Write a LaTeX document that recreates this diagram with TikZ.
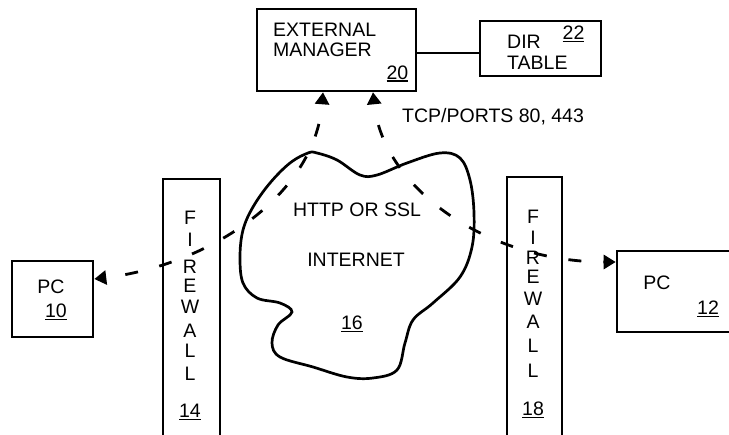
\documentclass[tikz,border=0pt]{standalone}
\usepackage{fontspec}
\setmainfont{Liberation Sans}
\usetikzlibrary{arrows.meta}
% underlined reference numeral with a heavier rule
\newcommand\refnum[1]{\setbox0\hbox{#1}\rlap{\rule[-2.5pt]{\wd0}{1.5pt}}\box0}

\begin{document}
\begin{tikzpicture}[x=1pt,y=-1pt,
  lbl/.style={inner sep=0pt, text height=13.6pt, text depth=0pt, font=\fontsize{19.5}{22}\selectfont},
  boxn/.style={draw, line width=2.6pt, inner sep=0pt},
  tipt/.tip={Triangle[length=12pt,width=14pt]},
  conn/.style={line width=2.8pt, dash pattern=on 13pt off 22pt, tipt-tipt}]
\useasboundingbox (0,0) rectangle (729,435);

% boxes
\node[boxn, minimum width=159pt, minimum height=82pt] (mgr)  at (336.5,50)  {};
\node[boxn, minimum width=121pt, minimum height=55pt] (dir)  at (540.5,48.5) {};
\node[boxn, minimum width=81pt,  minimum height=76pt] (pc10) at (52.5,299)  {};
\node[boxn, minimum width=125pt, minimum height=81pt] (pc12) at (679.5,291.5) {};
\node[boxn, minimum width=57pt,  minimum height=270pt] (fw14) at (191.5,314) {};
\node[boxn, minimum width=55pt,  minimum height=272pt] (fw18) at (534.5,313) {};

% internet cloud
\draw[line width=2.7pt] plot[smooth cycle, tension=0.6] coordinates {
  (317,153) (337,160) (360,175) (377,175) (407,163) (440,153) (460,158)
  (470,180) (474,213) (472,247) (460,277) (433,303) (413,320) (405,343)
  (397,370) (373,378) (347,377) (313,367) (280,357) (272,343) (278,325)
  (292,312) (280,303) (257,298) (243,283) (240,257) (243,230) (253,207)
  (270,183) (290,163) (308,153)};

% box texts
\node[lbl, anchor=west] (mgrA) at (273,30) {EXTERNAL};
\node[lbl, anchor=west] (mgrB) at (273,50) {MANAGER};
\node[lbl] (mgrN) at (397.5,72.5) {\refnum{20}};
\node[lbl, anchor=west] (dirA) at (507,42) {DIR};
\node[lbl] (dirN) at (573.5,33) {\refnum{22}};
\node[lbl, anchor=west] (dirB) at (507,63) {TABLE};
\node[lbl, anchor=west] (tcp) at (402,116) {TCP/PORTS 80, 443};
\node[lbl] (pcA) at (51,287) {PC};
\node[lbl] (pcAn) at (56,311) {\refnum{10}};
\node[lbl] (pcB) at (657,283) {PC};
\node[lbl] (pcBn) at (708,308) {\refnum{12}};
\node[lbl] (net1) at (357,210) {HTTP OR SSL};
\node[lbl] (net2) at (356,260) {INTERNET};
\node[lbl] (netN) at (352,323) {\refnum{16}};

% firewall lettering
\foreach \l/\y [count=\i] in {F/218,I/240,R/267,E/286,W/307,A/331,L/351,L/374}
  \node[lbl] (fwa\i) at (190,\y) {\l};
\node[lbl] (fwaN) at (190,411) {\refnum{14}};
\foreach \l/\y [count=\i] in {F/217,I/238,R/258,E/277,W/299,A/322,L/346,L/371}
  \node[lbl] (fwb\i) at (533,\y) {\l};
\node[lbl] (fwbN) at (533,409) {\refnum{18}};

% connectors
\draw[line width=2.6pt] (mgr.east |- 0,53) -- (dir.west |- 0,53);
\draw[conn, dash phase=15pt] (pc10.east |- 0,279) .. controls (210,265) and (315,195) .. (mgr.south -| 323,0);
\draw[conn, dash phase=13pt] (mgr.south -| 373,0) .. controls (383,190) and (490,262) .. (pc12.west |- 0,262);
\end{tikzpicture}
\end{document}
